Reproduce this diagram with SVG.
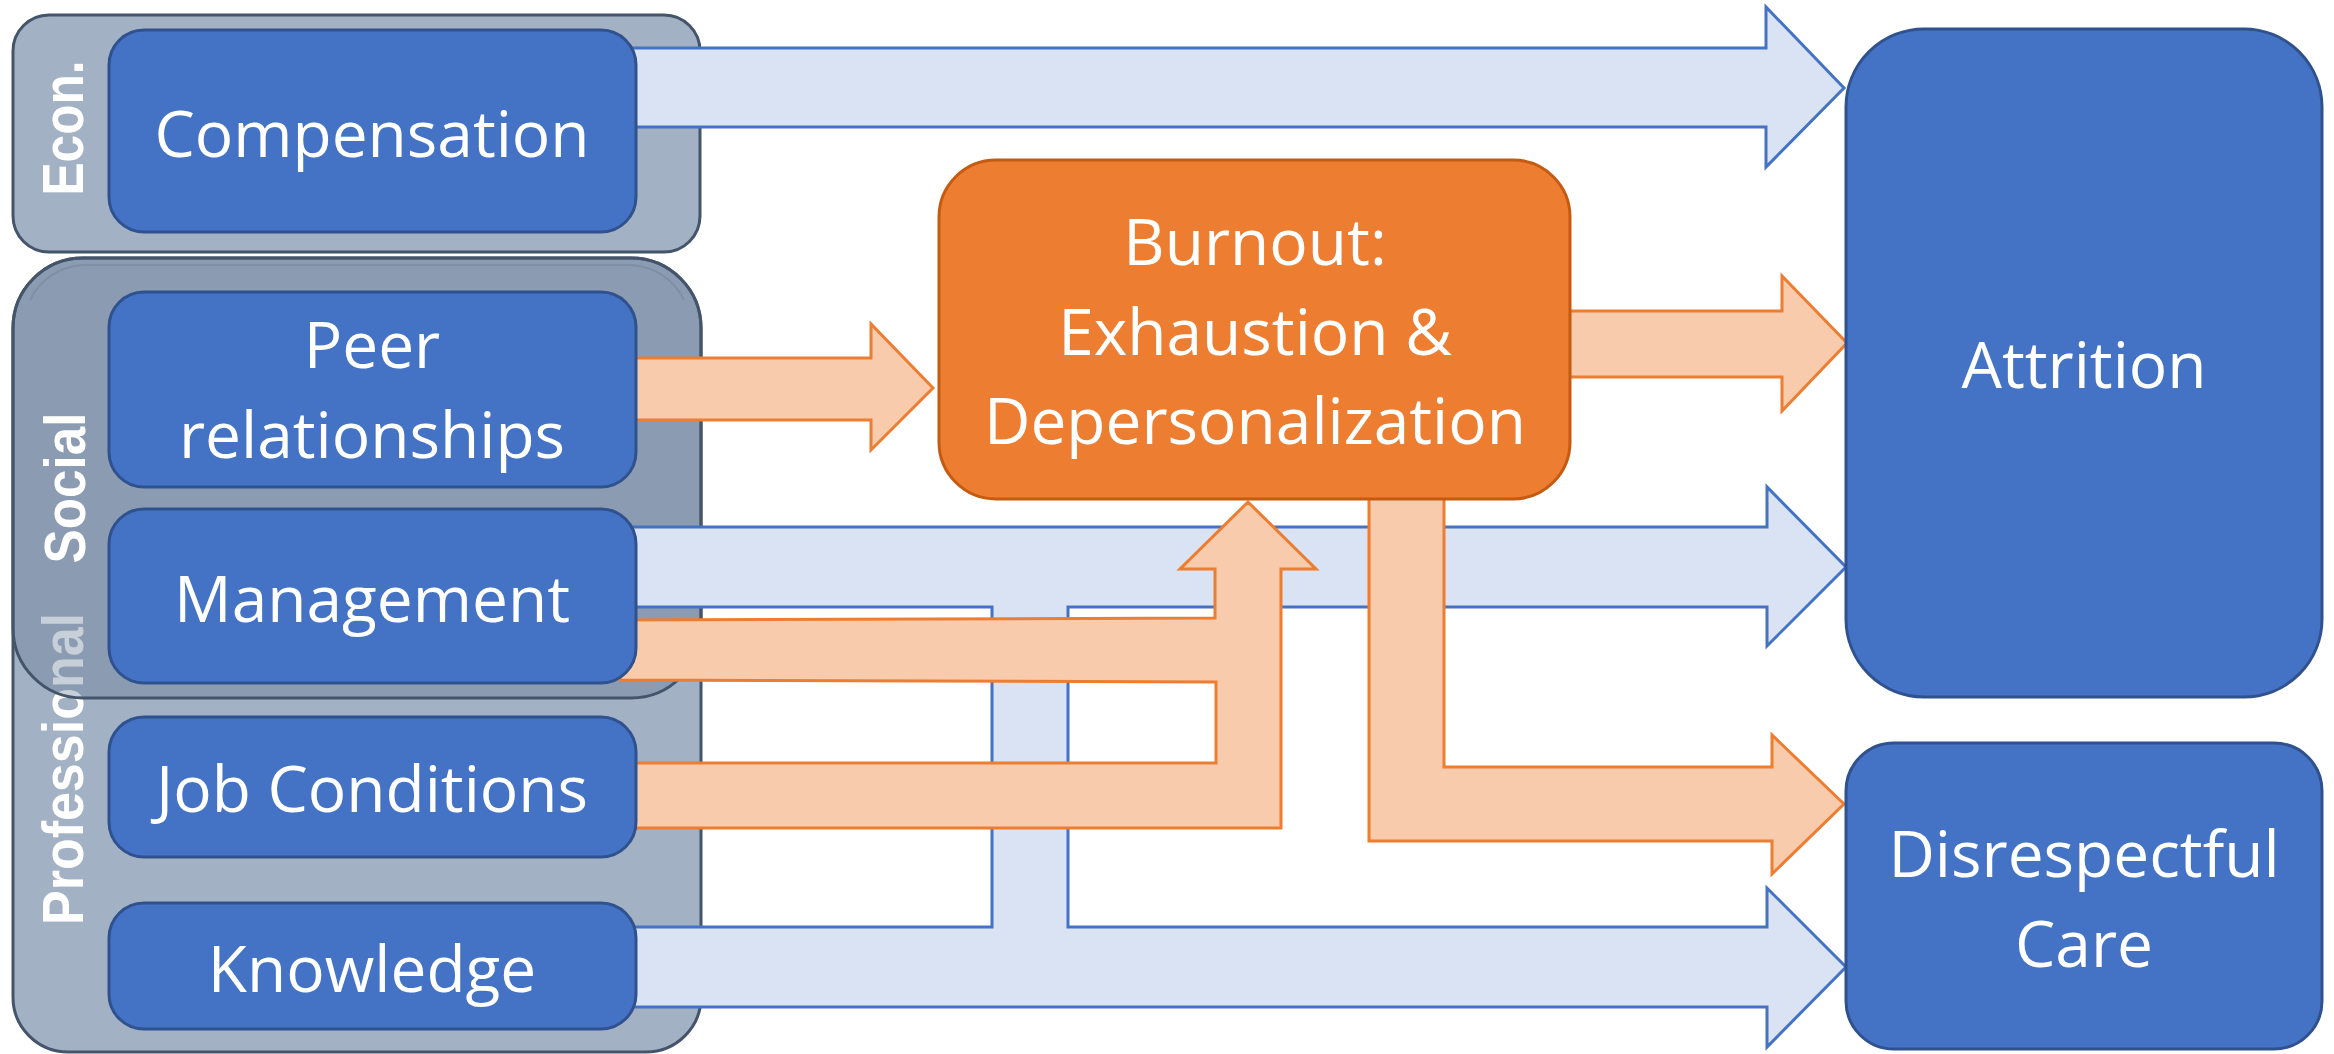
<svg xmlns="http://www.w3.org/2000/svg" width="2334" height="1054" viewBox="0 0 2334 1054">
  <style>
    .grp{fill:#A3B1C4;stroke:#44546A;stroke-width:3}
    .node{fill:#4472C4;stroke:#2F528F;stroke-width:3}
    .hub{fill:#ED7D31;stroke:#C55A11;stroke-width:3}
    .lbl{font-family:"Open Sans","Noto Sans","Liberation Sans",sans-serif;font-size:64px;fill:#FFFFFF;text-anchor:middle}
    .glbl{font-family:"Liberation Sans",Arial,sans-serif;font-weight:bold;font-size:57px;fill:#FFFFFF;text-anchor:middle}
    .ba{fill:#DAE3F3;stroke:#4472C4;stroke-width:3;stroke-linejoin:miter}
    .oa{fill:#F8CBAD;stroke:#ED7D31;stroke-width:3;stroke-linejoin:miter}
  </style>

  <!-- factor groups -->
  <g id="group-professional">
    <path class="grp" d="M83,258 H631 A70,70 0 0 1 701,328 V997 A55,55 0 0 1 646,1052 H68 A55,55 0 0 1 13,997 V328 A70,70 0 0 1 83,258 Z"/>
    <text class="glbl" transform="translate(83,769) rotate(-90)" textLength="312" lengthAdjust="spacingAndGlyphs">Professional</text>
  </g>
  <g id="group-social">
    <rect x="13" y="258" width="688" height="440" rx="70" fill="#5F7593" fill-opacity="0.35" stroke="#44546A" stroke-width="3"/>
    <path d="M30,300 A62,62 0 0 1 83,265 H631 A62,62 0 0 1 684,300" fill="none" stroke="#7F8FA6" stroke-width="2"/>
    <text class="glbl" transform="translate(85,488) rotate(-90)" textLength="151" lengthAdjust="spacingAndGlyphs">Social</text>
  </g>
  <g id="group-econ">
    <rect class="grp" x="13" y="15" width="687" height="237" rx="36"/>
    <text class="glbl" transform="translate(83,128) rotate(-90)" textLength="135" lengthAdjust="spacingAndGlyphs">Econ.</text>
  </g>

  <!-- connectors -->
  <g id="connectors">
    <polygon id="compensation-to-attrition" class="ba" points="620,48 1766,48 1766,7 1844,88 1766,167 1766,127 620,127"/>
    <polygon id="management-knowledge-to-outcomes" class="ba" points="620,527 1767,527 1767,487 1846,567 1767,646 1767,607 1068,607 1068,927 1767,927 1767,888 1846,967 1767,1047 1767,1007 620,1007 620,927 992,927 992,607 620,607"/>
    <polygon id="peer-to-burnout" class="oa" points="620,358 871,358 871,324 933,388 871,450 871,420 620,420"/>
    <polygon id="management-job-to-burnout" class="oa" points="620,620 1215,618 1215,569 1180,569 1248,502 1316,569 1281,569 1281,828 620,828 620,763 1216,763 1216,682 620,680"/>
    <polygon id="burnout-to-attrition" class="oa" points="1560,311 1782,311 1782,276 1847,343 1782,411 1782,377 1560,377"/>
    <polygon id="burnout-to-disrespectful" class="oa" points="1369,490 1444,490 1444,767 1772,767 1772,735 1844,804 1772,874 1772,841 1369,841"/>
  </g>

  <!-- nodes -->
  <g id="compensation">
    <rect class="node" x="109" y="30" width="527" height="202" rx="35"/>
    <text class="lbl" x="372" y="157">Compensation</text>
  </g>
  <g id="peer-relationships">
    <rect class="node" x="109" y="292" width="527" height="195" rx="35"/>
    <text class="lbl" x="372" y="368">Peer</text>
    <text class="lbl" x="372" y="458">relationships</text>
  </g>
  <g id="management">
    <rect class="node" x="109" y="509" width="527" height="174" rx="35"/>
    <text class="lbl" x="372" y="622">Management</text>
  </g>
  <g id="job-conditions">
    <rect class="node" x="109" y="717" width="527" height="140" rx="35"/>
    <text class="lbl" x="372" y="812">Job Conditions</text>
  </g>
  <g id="knowledge">
    <rect class="node" x="109" y="903" width="527" height="126" rx="35"/>
    <text class="lbl" x="372" y="992">Knowledge</text>
  </g>
  <g id="burnout">
    <rect class="hub" x="939" y="160" width="631" height="339" rx="57"/>
    <text class="lbl" x="1255" y="265">Burnout:</text>
    <text class="lbl" x="1255" y="355">Exhaustion &amp;</text>
    <text class="lbl" x="1255" y="444">Depersonalization</text>
  </g>
  <g id="attrition">
    <rect class="node" x="1846" y="29" width="476" height="668" rx="78"/>
    <text class="lbl" x="2084" y="388">Attrition</text>
  </g>
  <g id="disrespectful-care">
    <rect class="node" x="1846" y="743" width="476" height="306" rx="48"/>
    <text class="lbl" x="2084" y="877">Disrespectful</text>
    <text class="lbl" x="2084" y="967">Care</text>
  </g>
</svg>
